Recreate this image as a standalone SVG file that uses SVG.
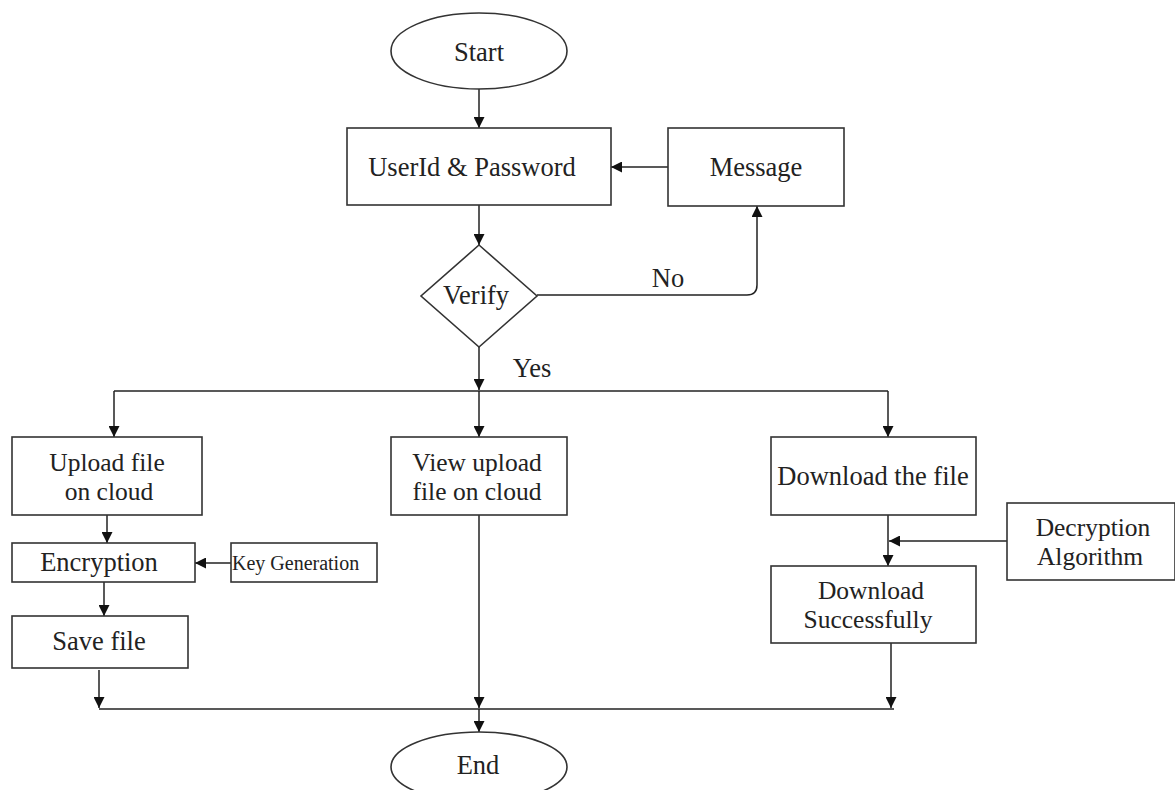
<svg xmlns="http://www.w3.org/2000/svg" width="1175" height="790" viewBox="0 0 1175 790">
<style>
.s{fill:#fff;stroke:#333;stroke-width:1.6}
.t{font-family:"Liberation Serif","Times New Roman",serif;font-size:26.5px;fill:#222;text-anchor:middle}
.m{font-family:"Liberation Serif","Times New Roman",serif;font-size:25.5px;fill:#222;text-anchor:middle}
.k{font-family:"Liberation Serif","Times New Roman",serif;font-size:20px;fill:#222}
.c{fill:none;stroke:#222;stroke-width:1.5}
</style>
<defs>
<marker id="a" viewBox="0 0 10 10" refX="10" refY="5" markerWidth="11" markerHeight="11" markerUnits="userSpaceOnUse" orient="auto">
<path d="M0,0 L10,5 L0,10 z" fill="#111"/>
</marker>
</defs>
<rect width="1175" height="790" fill="#fff"/>
<g id="connectors">
<line class="c" x1="479" y1="89" x2="479" y2="128" marker-end="url(#a)"/>
<line class="c" x1="668" y1="167" x2="611" y2="167" marker-end="url(#a)"/>
<line class="c" x1="479" y1="205" x2="479" y2="245" marker-end="url(#a)"/>
<path class="c" d="M537,295 H747 Q757,295 757,285 V206" marker-end="url(#a)"/>
<line class="c" x1="479" y1="347" x2="479" y2="390" marker-end="url(#a)"/>
<path class="c" d="M114,391 H888"/>
<line class="c" x1="114" y1="391" x2="114" y2="437" marker-end="url(#a)"/>
<line class="c" x1="479" y1="391" x2="479" y2="437" marker-end="url(#a)"/>
<line class="c" x1="888" y1="391" x2="888" y2="437" marker-end="url(#a)"/>
<line class="c" x1="107" y1="515" x2="107" y2="543" marker-end="url(#a)"/>
<line class="c" x1="231" y1="563" x2="195" y2="563" marker-end="url(#a)"/>
<line class="c" x1="104" y1="582" x2="104" y2="616" marker-end="url(#a)"/>
<line class="c" x1="888" y1="515" x2="888" y2="566" marker-end="url(#a)"/>
<line class="c" x1="1007" y1="541" x2="889" y2="541" marker-end="url(#a)"/>
<line class="c" x1="99" y1="670" x2="99" y2="708" marker-end="url(#a)"/>
<line class="c" x1="479" y1="515" x2="479" y2="708" marker-end="url(#a)"/>
<line class="c" x1="891" y1="643" x2="891" y2="708" marker-end="url(#a)"/>
<path class="c" d="M99,709 H894"/>
<line class="c" x1="479" y1="709" x2="479" y2="732" marker-end="url(#a)"/>
</g>
<g id="start"><ellipse class="s" cx="479" cy="51" rx="88" ry="38"/><text class="t" x="479" y="61">Start</text></g>
<g id="login"><rect class="s" x="347" y="128" width="264" height="77"/><text class="t" x="472" y="176">UserId &amp; Password</text></g>
<g id="message"><rect class="s" x="668" y="128" width="176" height="78"/><text class="t" x="756" y="176">Message</text></g>
<g id="verify"><polygon class="s" points="479,245 537,296 479,347 421,296"/><text class="t" x="476" y="304">Verify</text></g>
<g id="no"><text class="t" x="668" y="287">No</text></g>
<g id="yes"><text class="t" x="532" y="377">Yes</text></g>
<g id="upload"><rect class="s" x="12" y="437" width="190" height="78"/><text class="m" x="107" y="471">Upload file</text><text class="m" x="109" y="499.5">on cloud</text></g>
<g id="encryption"><rect class="s" x="12" y="543" width="183" height="39"/><text class="t" x="99" y="571">Encryption</text></g>
<g id="keygen"><rect class="s" x="231" y="543" width="146" height="39"/><text class="k" x="232" y="570">Key Generation</text></g>
<g id="save"><rect class="s" x="12" y="616" width="176" height="52"/><text class="t" x="99" y="650">Save file</text></g>
<g id="view"><rect class="s" x="391" y="437" width="176" height="78"/><text class="m" x="477" y="471">View upload</text><text class="m" x="477" y="499.5">file on cloud</text></g>
<g id="download"><rect class="s" x="771" y="437" width="205" height="78"/><text class="t" x="873" y="485">Download the file</text></g>
<g id="decryption"><rect class="s" x="1007" y="503" width="168" height="77"/><text class="m" x="1093" y="536">Decryption</text><text class="m" x="1090" y="564.5">Algorithm</text></g>
<g id="success"><rect class="s" x="771" y="566" width="205" height="77"/><text class="m" x="871" y="599">Download</text><text class="m" x="868" y="627.5">Successfully</text></g>
<g id="end"><ellipse class="s" cx="479" cy="767" rx="88" ry="35"/><text class="t" x="478" y="774">End</text></g>
</svg>
